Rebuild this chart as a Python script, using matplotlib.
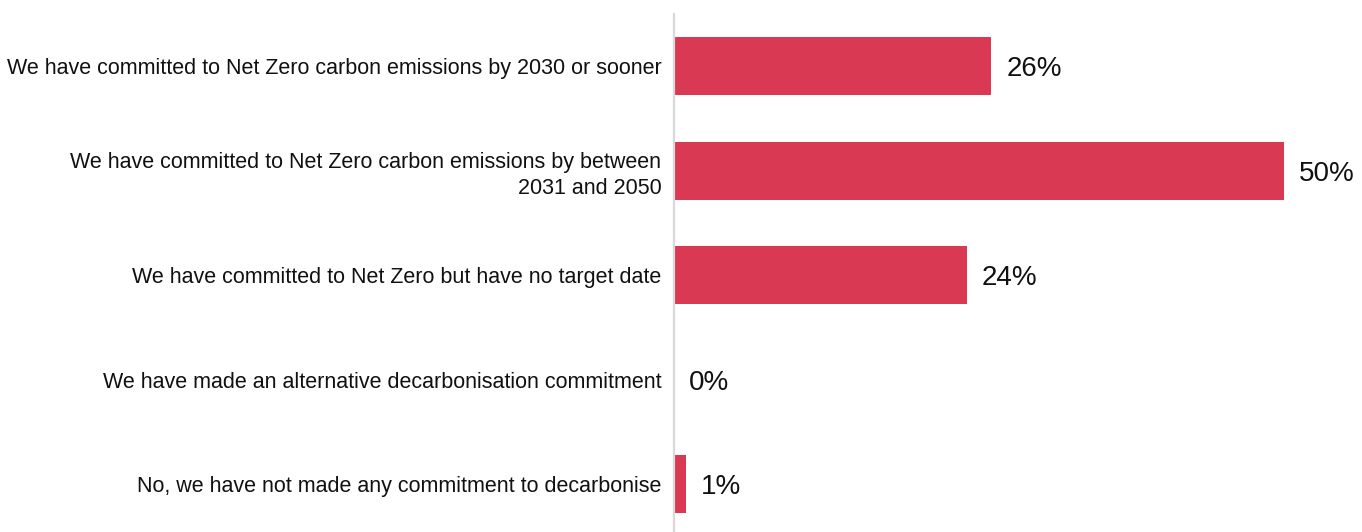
import matplotlib.pyplot as plt

plt.rcParams['font.family'] = ['Liberation Sans', 'DejaVu Sans']

categories = [
    "We have committed to Net Zero carbon emissions by 2030 or sooner",
    "We have committed to Net Zero carbon emissions by between\n2031 and 2050",
    "We have committed to Net Zero but have no target date",
    "We have made an alternative decarbonisation commitment",
    "No, we have not made any commitment to decarbonise",
]
shares = [26, 50, 24, 0, 1]

bar_color = '#d93953'

fig = plt.figure(figsize=(13.62, 5.32), dpi=100)
ax = fig.add_axes([674 / 1362, 0, 688 / 1362, 518 / 532])

pos = list(range(len(categories)))
ax.barh(pos, shares, height=0.555, color=bar_color)

# percentage labels just right of each bar
for p, v in zip(pos, shares):
    ax.annotate(f"{v}%", xy=(v, p), xytext=(15, -3), textcoords='offset pixels',
                va='center', ha='left', fontsize=20, color='#111111')

ax.set_yticks(pos)
ax.set_yticklabels(categories, fontsize=15.5, color='#111111', linespacing=1.3,
                   multialignment='right')
ax.tick_params(axis='y', length=0, pad=9)
ax.set_xticks([])
ax.set_xlim(0, 688 / 12.2)
ax.set_ylim(4.46, -0.5)

for side in ['top', 'right', 'bottom']:
    ax.spines[side].set_visible(False)
ax.spines['left'].set_color('#d9d9d9')
ax.spines['left'].set_linewidth(1.6)

fig.savefig('out.png', dpi=100)
